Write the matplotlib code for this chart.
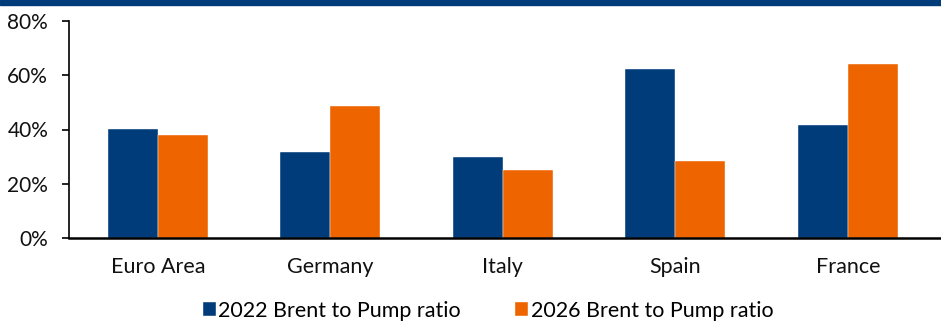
import matplotlib.pyplot as plt
import numpy as np
from matplotlib.patches import Rectangle

# ==================== data ====================
categories = ['Euro Area', 'Germany', 'Italy', 'Spain', 'France']
ratio_2022 = [40.2, 31.8, 30.0, 62.4, 41.5]
ratio_2026 = [38.0, 48.7, 25.0, 28.5, 64.3]
series_labels = ['2022 Brent to Pump ratio', '2026 Brent to Pump ratio']
yticks = [0, 20, 40, 60, 80]

navy = '#003B7A'
orange = '#EE6500'

plt.rcParams['font.family'] = ['Lato', 'DejaVu Sans']

fig = plt.figure(figsize=(9.41, 3.22), dpi=100)
# dark blue band across the top
fig.patches.append(Rectangle((0, 1 - 5 / 322), 1, 5 / 322, transform=fig.transFigure,
                             color=navy, zorder=0))

ax = fig.add_axes([69 / 941, 1 - 238 / 322, 1 - 69 / 941, (238 - 21) / 322])

x = np.arange(len(categories))
w = 0.29
ax.bar(x - w / 2, ratio_2022, w, color=navy, label=series_labels[0],
       edgecolor='white', linewidth=0.3)
ax.bar(x + w / 2, ratio_2026, w, color=orange, label=series_labels[1],
       edgecolor='white', linewidth=0.3)

ax.set_xlim(-0.515, 4.54)
ax.set_ylim(0, 80)
ax.set_yticks(yticks)
ax.set_yticklabels([f'{v}%' for v in yticks], fontsize=15, color='#111111')
ax.set_xticks(x)
ax.set_xticklabels(categories, fontsize=15.5, color='#111111')
ax.tick_params(axis='x', length=0, pad=14)
ax.tick_params(axis='y', length=5, width=1.2, direction='out', pad=10)

for s in ['top', 'right']:
    ax.spines[s].set_visible(False)
ax.spines['left'].set_linewidth(1.2)
ax.spines['bottom'].set_linewidth(1.8)

# legend centred in figure coords
fig.legend(loc='center', bbox_to_anchor=(488 / 941, 1 - 311 / 322),
           ncol=2, frameon=False, fontsize=15.5,
           handlelength=0.62, handleheight=0.62, handletextpad=0.12, columnspacing=2.5)

plt.savefig('out.png', dpi=100, facecolor='white')
